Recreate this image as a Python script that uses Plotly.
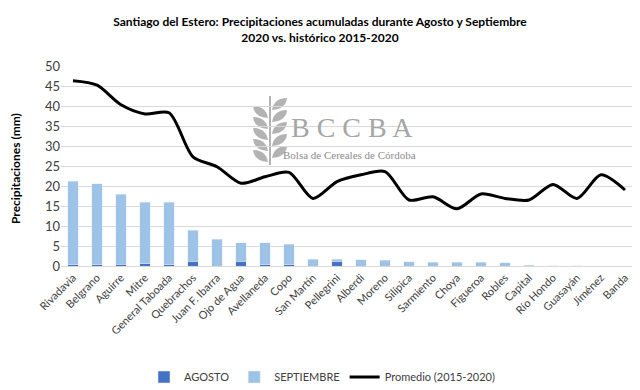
import plotly.graph_objects as go

departamentos = ["Rivadavia", "Belgrano", "Aguirre", "Mitre", "General Taboada", "Quebrachos",
                 "Juan F. Ibarra", "Ojo de Agua", "Avellaneda", "Copo", "San Martín", "Pellegrini",
                 "Alberdi", "Moreno", "Silípica", "Sarmiento", "Choya", "Figueroa", "Robles",
                 "Capital", "Río Hondo", "Guasayán", "Jiménez", "Banda"]
agosto = [0.3, 0.3, 0.4, 0.6, 0.3, 1.2, 0.0, 1.2, 0.3, 0.3, 0.0, 1.2,
          0.0, 0.0, 0.0, 0.0, 0.0, 0.0, 0.0, 0.0, 0.0, 0.0, 0.0, 0.0]
septiembre = [20.9, 20.3, 17.6, 15.4, 15.6, 7.8, 6.7, 4.6, 5.5, 5.2, 1.7, 0.5,
              1.6, 1.4, 1.1, 1.0, 1.0, 1.0, 0.8, 0.15, 0.1, 0.05, 0.0, 0.0]
promedio = [46.3, 45.2, 40.3, 38.0, 38.3, 27.3, 24.8, 20.7, 22.3, 23.4, 16.9, 21.1,
            22.8, 23.6, 16.5, 17.3, 14.3, 18.0, 16.9, 16.5, 20.4, 16.9, 22.8, 19.0]
y_ticks = [0, 5, 10, 15, 20, 25, 30, 35, 40, 45, 50]

FONT = "Lato, Open Sans, sans-serif"
SERIF = "Liberation Serif, DejaVu Serif, serif"

fig = go.Figure()
fig.add_trace(go.Bar(x=departamentos, y=agosto, name="AGOSTO", marker_color="#4472C4"))
fig.add_trace(go.Bar(x=departamentos, y=septiembre, name="SEPTIEMBRE", marker_color="#9DC3E6"))
fig.add_trace(go.Scatter(x=departamentos, y=promedio, name="Promedio (2015-2020)", mode="lines",
                         line=dict(color="black", width=3, shape="spline", smoothing=0.8)))

# convert reference pixel to paper coordinates (plot area 61..637 x 66..266 on screen)
def px(x):
    return (x - 61) / 576
def py(y):
    return (266 - y) / 200

# watermark logo
fig.add_annotation(text="B C C B A", xref="paper", yref="paper", x=px(352), y=py(127),
                   xanchor="center", yanchor="middle", showarrow=False,
                   font=dict(family=SERIF, size=28, color="#A6A6A6"))
fig.add_annotation(text="Bolsa de Cereales de Córdoba", xref="paper", yref="paper",
                   x=px(349), y=py(155), xanchor="center", yanchor="middle", showarrow=False,
                   font=dict(family=SERIF, size=11, color="#8C8C8C"))

# y-axis title
fig.add_annotation(text="<b>Precipitaciones (mm)</b>", xref="paper", yref="paper",
                   x=px(15), y=py(169), xanchor="center", yanchor="middle", showarrow=False,
                   textangle=-90, font=dict(family=FONT, size=12, color="#000000"))

# wheat leaves
leaves = [(268, 112, -1), (268, 123, -1), (268, 134, -1), (268, 145, -1), (268, 156, -1),
          (272, 104, 1), (272, 116, 1), (272, 128, 1), (272, 140, 1), (272, 152, 1)]
for (lx, ly, d) in leaves:
    x0, y0 = lx, ly + 6
    x1, y1 = lx + d * 15, ly - 6
    path = (f"M {px(x0)} {py(y0)} Q {px(x0 + d*2)} {py(y0 - 12)} {px(x1)} {py(y1)} "
            f"Q {px(x0 + d*14)} {py(y0 - 1)} {px(x0)} {py(y0)} Z")
    fig.add_shape(type="path", path=path, xref="paper", yref="paper",
                  fillcolor="#B3B3B3", line=dict(width=0), layer="below")
fig.add_shape(type="line", xref="paper", yref="paper", x0=px(270), y0=py(165), x1=px(270), y1=py(96),
              line=dict(color="#B3B3B3", width=2), layer="below")

# page body has an 8px margin, so the figure starts at (8, 8) on screen
fig.update_layout(
    width=640, height=390,
    margin=dict(l=53, r=11, t=58, b=132, autoexpand=False),
    barmode="stack", bargap=0.58,
    paper_bgcolor="white", plot_bgcolor="white",
    font=dict(family=FONT, size=11, color="#404040"),
    title=dict(text="<b>Santiago del Estero: Precipitaciones acumuladas durante Agosto y Septiembre<br>2020 vs. histórico 2015-2020</b>",
               x=312 / 640, xref="container", xanchor="center", y=1 - 18 / 390, yref="container", yanchor="middle",
               font=dict(family=FONT, size=12, color="#000000")),
    legend=dict(orientation="h", x=px(322), xanchor="center", y=py(377), yanchor="middle",
                font=dict(family=FONT, size=11, color="#404040"), traceorder="normal"),
    xaxis=dict(tickangle=-45, showgrid=False, showline=True, linecolor="#D9D9D9",
               tickfont=dict(size=11, color="#404040"), ticks="", automargin=False),
    yaxis=dict(range=[0, 50], tickvals=y_ticks, showgrid=True, gridcolor="#D9D9D9",
               zeroline=False, tickfont=dict(size=13, color="#404040"), automargin=False),
)

fig.write_html("out.html")
